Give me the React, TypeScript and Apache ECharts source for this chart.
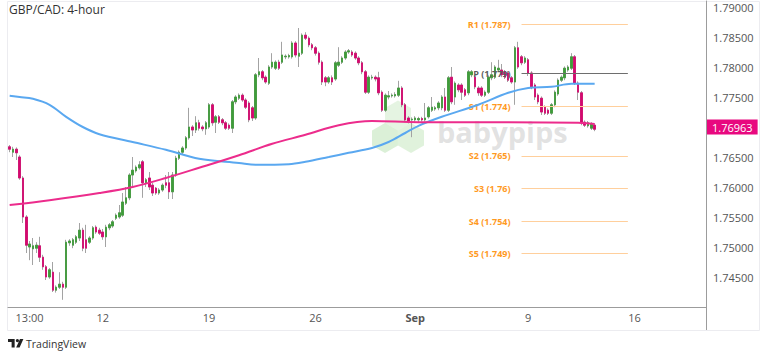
import React, { useEffect, useRef } from 'react';
import * as echarts from 'echarts';

const FONT = '"Open Sans", "Noto Sans", sans-serif';

const categoryCount = 210;
const categories = Array.from({ length: categoryCount }, (_, i) => 'b' + i);
const tickIndex = [6, 28, 60, 92, 122, 156, 188];
const tickText = ['13:00', '12', '19', '26', 'Sep', '9', '16'];

// [open, close, low, high]
const candles: number[][] = [
  [1.7667, 1.7663, 1.7658, 1.767], [1.7658, 1.7663, 1.765, 1.7667], [1.7663, 1.7657, 1.7645, 1.7666],
  [1.765, 1.7615, 1.7612, 1.7653], [1.7615, 1.755, 1.754, 1.7618], [1.755, 1.7503, 1.749, 1.7553],
  [1.75, 1.7505, 1.7478, 1.751], [1.7497, 1.7502, 1.747, 1.7515], [1.7498, 1.7503, 1.749, 1.7508],
  [1.7502, 1.7483, 1.7475, 1.7517], [1.7483, 1.7467, 1.7462, 1.7487], [1.7467, 1.745, 1.7445, 1.747],
  [1.745, 1.7462, 1.7447, 1.7465], [1.7458, 1.7428, 1.7425, 1.7475], [1.7428, 1.7433, 1.7424, 1.7436],
  [1.7433, 1.7438, 1.743, 1.7458], [1.7438, 1.7433, 1.7412, 1.7442], [1.7433, 1.7508, 1.743, 1.7512],
  [1.7507, 1.751, 1.7502, 1.7513], [1.7503, 1.7512, 1.7498, 1.7515], [1.7508, 1.7517, 1.7505, 1.752],
  [1.7515, 1.7528, 1.751, 1.754], [1.7528, 1.7498, 1.7493, 1.7532], [1.7512, 1.7498, 1.749, 1.7537],
  [1.7508, 1.7515, 1.7505, 1.7518], [1.7515, 1.7532, 1.7512, 1.7535], [1.7533, 1.7525, 1.7522, 1.7536],
  [1.7528, 1.7523, 1.752, 1.7532], [1.7525, 1.7517, 1.7512, 1.753], [1.7517, 1.7533, 1.75, 1.7537],
  [1.7532, 1.7537, 1.7528, 1.754], [1.7535, 1.7542, 1.7532, 1.7545], [1.7548, 1.7553, 1.7545, 1.7556],
  [1.755, 1.7557, 1.7547, 1.757], [1.7553, 1.7575, 1.755, 1.759], [1.7573, 1.7582, 1.757, 1.76],
  [1.7582, 1.762, 1.7578, 1.7623], [1.762, 1.7628, 1.76, 1.765], [1.7627, 1.7633, 1.7624, 1.7636],
  [1.7632, 1.7637, 1.7629, 1.7643], [1.7642, 1.7607, 1.7582, 1.7645], [1.7607, 1.7612, 1.76, 1.7615],
  [1.7615, 1.76, 1.7595, 1.7625], [1.7603, 1.759, 1.7585, 1.7607], [1.7598, 1.759, 1.7587, 1.76],
  [1.759, 1.7595, 1.7587, 1.7598], [1.7595, 1.7603, 1.7592, 1.7606], [1.7607, 1.7603, 1.7598, 1.762],
  [1.7607, 1.7592, 1.758, 1.7625], [1.7592, 1.762, 1.758, 1.7625], [1.762, 1.7648, 1.7617, 1.7652],
  [1.7648, 1.7658, 1.7645, 1.7661], [1.7658, 1.7665, 1.7655, 1.7668], [1.7665, 1.7682, 1.7662, 1.7685],
  [1.7682, 1.77, 1.7679, 1.7732], [1.77, 1.7695, 1.7685, 1.7703], [1.7695, 1.7707, 1.769, 1.7718],
  [1.7707, 1.7698, 1.7694, 1.7712], [1.77, 1.7697, 1.7693, 1.7703], [1.7697, 1.7707, 1.7687, 1.771],
  [1.77, 1.7737, 1.7697, 1.774], [1.7737, 1.7707, 1.7702, 1.774], [1.7708, 1.7717, 1.769, 1.772],
  [1.7717, 1.7708, 1.7705, 1.772], [1.7712, 1.7707, 1.7703, 1.7715], [1.7707, 1.7698, 1.7695, 1.771],
  [1.7703, 1.7698, 1.7695, 1.7706], [1.7698, 1.7742, 1.769, 1.7745], [1.7742, 1.775, 1.7738, 1.7753],
  [1.7748, 1.7753, 1.7745, 1.7756], [1.7753, 1.7745, 1.7742, 1.7756], [1.7745, 1.7733, 1.773, 1.7748],
  [1.774, 1.7712, 1.7708, 1.7743], [1.7732, 1.7715, 1.771, 1.7735], [1.7715, 1.7787, 1.7712, 1.779],
  [1.7787, 1.7792, 1.7783, 1.7815], [1.7792, 1.7782, 1.7778, 1.7795], [1.7783, 1.7775, 1.7772, 1.7786],
  [1.7773, 1.78, 1.777, 1.7803], [1.78, 1.7808, 1.7797, 1.7823], [1.7798, 1.7808, 1.7795, 1.7811],
  [1.7808, 1.7798, 1.7795, 1.7812], [1.7808, 1.782, 1.7805, 1.7842], [1.7817, 1.7818, 1.7813, 1.7821],
  [1.7817, 1.7819, 1.7814, 1.7822], [1.7817, 1.784, 1.7814, 1.7843], [1.784, 1.782, 1.7816, 1.7843],
  [1.7818, 1.7823, 1.78, 1.7865], [1.7823, 1.7853, 1.782, 1.7856], [1.7853, 1.7848, 1.7845, 1.7858],
  [1.7848, 1.7837, 1.7833, 1.7851], [1.7837, 1.7832, 1.7828, 1.784], [1.7832, 1.7823, 1.7819, 1.7835],
  [1.7823, 1.7808, 1.7804, 1.7826], [1.7808, 1.7775, 1.777, 1.7811], [1.7782, 1.7775, 1.7768, 1.7785],
  [1.7775, 1.7782, 1.7772, 1.7785], [1.7782, 1.7775, 1.777, 1.7786], [1.778, 1.7807, 1.7777, 1.781],
  [1.7803, 1.7808, 1.78, 1.7833], [1.7808, 1.7815, 1.7805, 1.7818], [1.7815, 1.7825, 1.7812, 1.7828],
  [1.7825, 1.7827, 1.7822, 1.783], [1.7825, 1.782, 1.7817, 1.7828], [1.7823, 1.7815, 1.7812, 1.7826],
  [1.7815, 1.7807, 1.7803, 1.7818], [1.7807, 1.7792, 1.7788, 1.781], [1.7792, 1.7758, 1.7755, 1.7795],
  [1.7758, 1.7783, 1.7755, 1.7786], [1.7782, 1.7783, 1.7779, 1.7787], [1.7783, 1.778, 1.7776, 1.7786],
  [1.7782, 1.7757, 1.7753, 1.7792], [1.7758, 1.7728, 1.7725, 1.7761], [1.7728, 1.7753, 1.7725, 1.7756],
  [1.775, 1.7752, 1.7746, 1.776], [1.7752, 1.7753, 1.7749, 1.7756], [1.7752, 1.7754, 1.7749, 1.7758],
  [1.7753, 1.7765, 1.775, 1.7777], [1.7765, 1.7737, 1.7733, 1.7768], [1.7737, 1.7712, 1.7708, 1.774],
  [1.7715, 1.771, 1.7706, 1.7718], [1.7712, 1.7713, 1.7683, 1.7716], [1.7712, 1.7715, 1.7709, 1.7718],
  [1.7712, 1.7714, 1.7708, 1.7717], [1.7714, 1.7712, 1.7709, 1.7717], [1.7712, 1.7715, 1.7709, 1.774],
  [1.7717, 1.7732, 1.7714, 1.7735], [1.7728, 1.7733, 1.7725, 1.775], [1.773, 1.7732, 1.7727, 1.7735],
  [1.7732, 1.774, 1.7728, 1.7743], [1.7732, 1.775, 1.7728, 1.7753], [1.775, 1.7728, 1.7725, 1.7765],
  [1.7728, 1.7782, 1.7725, 1.7785], [1.7783, 1.7742, 1.7738, 1.78], [1.775, 1.7773, 1.7737, 1.7776],
  [1.777, 1.7762, 1.7758, 1.7773], [1.777, 1.7758, 1.7745, 1.7773], [1.7762, 1.7753, 1.775, 1.7765],
  [1.7757, 1.7792, 1.7753, 1.7795], [1.7787, 1.7792, 1.7783, 1.7795], [1.7783, 1.7767, 1.7763, 1.7786],
  [1.7765, 1.7757, 1.7752, 1.7768], [1.7765, 1.7753, 1.775, 1.7768], [1.7753, 1.7758, 1.775, 1.7761],
  [1.7758, 1.7783, 1.7755, 1.7786], [1.7782, 1.7787, 1.7778, 1.7808], [1.7783, 1.78, 1.778, 1.7803],
  [1.7795, 1.7798, 1.7792, 1.7812], [1.7795, 1.7787, 1.7783, 1.7805], [1.7792, 1.7783, 1.778, 1.7795],
  [1.779, 1.7778, 1.7775, 1.7793], [1.7782, 1.7775, 1.7772, 1.7785], [1.7775, 1.7832, 1.7737, 1.7835],
  [1.7832, 1.78, 1.7797, 1.7842], [1.7817, 1.7807, 1.7803, 1.782], [1.7808, 1.7815, 1.7805, 1.7818],
  [1.7812, 1.779, 1.7785, 1.7815], [1.779, 1.7767, 1.7763, 1.7793], [1.777, 1.775, 1.7745, 1.7773],
  [1.7753, 1.7742, 1.7738, 1.7756], [1.7748, 1.7725, 1.772, 1.7751], [1.7733, 1.7723, 1.772, 1.7736],
  [1.7728, 1.7723, 1.772, 1.7731], [1.7723, 1.7737, 1.772, 1.774], [1.7737, 1.7758, 1.7733, 1.7761],
  [1.7755, 1.7778, 1.7752, 1.7781], [1.7778, 1.7783, 1.7775, 1.7786], [1.7782, 1.7798, 1.7778, 1.7801],
  [1.7795, 1.78, 1.7792, 1.7803], [1.7798, 1.7817, 1.7795, 1.7823], [1.7817, 1.7773, 1.777, 1.782],
  [1.7773, 1.7758, 1.7745, 1.7776], [1.7757, 1.7707, 1.7703, 1.776], [1.7708, 1.7703, 1.77, 1.7711],
  [1.7702, 1.7707, 1.7699, 1.771], [1.7698, 1.7705, 1.7695, 1.7708], [1.7703, 1.76963, 1.7693, 1.7706],
];

const blueMaIdx = [0, 3, 7, 12, 17, 22, 27, 37, 47, 57, 69, 74, 84, 89, 96, 102, 109, 114, 119, 123, 130, 141, 150, 156, 163, 169, 176];
const blueMaVal = [1.7752, 1.775, 1.7747, 1.7737, 1.7717, 1.77, 1.7688, 1.7675, 1.7662, 1.7647, 1.764, 1.7637, 1.7638, 1.7642, 1.765, 1.7657, 1.7665, 1.7675, 1.769, 1.7702, 1.7717, 1.7737, 1.7757, 1.7765, 1.7767, 1.7772, 1.7772];

const pinkMaIdx = [0, 12, 27, 37, 47, 57, 69, 79, 89, 99, 109, 123, 150, 171, 176];
const pinkMaVal = [1.757, 1.7578, 1.759, 1.76, 1.7615, 1.7632, 1.7653, 1.7672, 1.7687, 1.7703, 1.771, 1.7708, 1.7708, 1.7707, 1.7705];

const pivotNames = ['R1', 'P', 'S1', 'S2', 'S3', 'S4', 'S5'];
const pivotLevels = [1.7871, 1.779, 1.7735, 1.7652, 1.7598, 1.7543, 1.749];
const pivotText = ['1.787', '1.779', '1.774', '1.765', '1.76', '1.754', '1.749'];
const pivotStart = 154;
const pivotEnd = 186;

const UP = '#3f9c3a';
const DOWN = '#d5086e';
const WICK = '#a3a3a3';

function hexPoints(cx: number, cy: number, r: number) {
  const w = r * 0.866;
  return [[cx, cy - r], [cx + w, cy - r / 2], [cx + w, cy + r / 2], [cx, cy + r], [cx - w, cy + r / 2], [cx - w, cy - r / 2]];
}

export default function App() {
  const ref = useRef<HTMLDivElement>(null);
  useEffect(() => {
    if (!ref.current) return;
    echarts.graphic.registerShape(
      'tvlogo',
      echarts.graphic.extendPath('M0 0H7V9H3.8V3.2H0Z M8.2 1.7A1.7 1.7 0 1 0 11.6 1.7A1.7 1.7 0 1 0 8.2 1.7Z M12.6 0H16.2L12.2 9H8.6Z', {})
    );
    const chart = echarts.init(ref.current, undefined, { renderer: 'svg' });
    const lastClose = candles[candles.length - 1][1];
    const option: any = {
      animation: false,
      backgroundColor: '#ffffff',
      grid: { left: 8, right: 62, top: 1, bottom: 51, containLabel: false },
      xAxis: {
        type: 'category',
        data: categories,
        boundaryGap: true,
        axisLine: { show: true, lineStyle: { color: '#9c9c9c', width: 1 } },
        axisTick: { show: false },
        splitLine: { show: false },
        axisLabel: {
          interval: (i: number) => tickIndex.includes(i),
          formatter: (_v: string, i: number) => {
            const k = tickIndex.indexOf(i);
            if (k < 0) return '';
            return tickText[k] === 'Sep' ? '{b|Sep}' : tickText[k];
          },
          rich: { b: { fontWeight: 'bold', fontSize: 11, color: '#555', fontFamily: FONT } },
          color: '#555',
          fontSize: 11,
          fontFamily: FONT,
          margin: 5,
          hideOverlap: false,
        },
      },
      yAxis: {
        type: 'value',
        position: 'right',
        min: 1.74,
        max: 1.791,
        interval: 0.005,
        axisLine: { show: true, lineStyle: { color: '#9c9c9c', width: 1 } },
        axisTick: { show: false },
        splitLine: { show: false },
        axisLabel: {
          formatter: (v: number) => {
            const k = Math.round(v / 0.005);
            if (Math.abs(v - k * 0.005) > 1e-7) return '';
            if (Math.abs(v - 1.74) < 1e-7 || Math.abs(v - 1.77) < 1e-7) return '';
            return v.toFixed(5);
          },
          color: '#555',
          fontSize: 11,
          fontFamily: FONT,
          margin: 7,
        },
      },
      series: [
        {
          type: 'line',
          z: 1,
          silent: true,
          data: [],
          markLine: {
            silent: true,
            symbol: ['none', 'none'],
            animation: false,
            data: pivotLevels.map((lvl, k) => [
              {
                coord: [categories[pivotStart], lvl],
                lineStyle: { color: k === 1 ? '#6e6e6e' : '#ffcf9c', width: 1, type: 'solid' },
                label: {
                  show: true,
                  position: 'start',
                  distance: 11,
                  formatter: `${pivotNames[k]} (${pivotText[k]})`,
                  color: k === 1 ? '#5c5c5c' : '#ff9a1f',
                  fontSize: 9,
                  fontWeight: 'bold',
                  fontFamily: FONT,
                },
              },
              { coord: [categories[pivotEnd], lvl] },
            ]),
          },
        },
        {
          type: 'candlestick',
          z: 3,
          silent: true,
          barWidth: 2,
          data: candles.map((c) => [c[0], c[1], c[2], c[3]]),
          itemStyle: { color: WICK, color0: WICK, borderColor: WICK, borderColor0: WICK, borderWidth: 1 },
        },
        {
          type: 'candlestick',
          z: 4,
          silent: true,
          barWidth: 2,
          data: candles.map((c) => [c[0], c[1], Math.min(c[0], c[1]), Math.max(c[0], c[1])]),
          itemStyle: { color: UP, color0: DOWN, borderColor: UP, borderColor0: DOWN, borderWidth: 0.8 },
          markLine: {
            silent: true,
            symbol: ['none', 'none'],
            animation: false,
            data: [{ yAxis: lastClose }],
            lineStyle: { width: 0, color: 'rgba(0,0,0,0)' },
            label: {
              show: true,
              position: 'end',
              distance: 1,
              formatter: lastClose.toFixed(5),
              color: '#ffffff',
              backgroundColor: '#e8087f',
              padding: [2, 5, 2, 5],
              fontSize: 11,
              fontFamily: FONT,
            },
          },
        },
        {
          type: 'line',
          z: 5,
          silent: true,
          showSymbol: false,
          symbol: 'none',
          smooth: 0.35,
          data: blueMaIdx.map((i, k) => [categories[i], blueMaVal[k]]),
          lineStyle: { color: '#5aa8f0', width: 2 },
        },
        {
          type: 'line',
          z: 5,
          silent: true,
          showSymbol: false,
          symbol: 'none',
          smooth: 0.35,
          data: pinkMaIdx.map((i, k) => [categories[i], pinkMaVal[k]]),
          lineStyle: { color: '#ec2c8c', width: 2 },
        },
      ],
      graphic: [
        { type: 'rect', z: 0, silent: true, shape: { x: 7.5, y: 1.5, width: 752, height: 329 }, style: { fill: 'none', stroke: '#ececf0', lineWidth: 1 } },
        { type: 'line', z: 0, silent: true, shape: { x1: 706.5, y1: 306, x2: 706.5, y2: 330 }, style: { stroke: '#9c9c9c', lineWidth: 1 } },
        { type: 'polygon', z: 0, silent: true, shape: { points: hexPoints(398, 115.5, 15) }, style: { fill: 'rgba(170,220,160,0.30)' } },
        { type: 'polygon', z: 0, silent: true, shape: { points: hexPoints(385, 138, 15) }, style: { fill: 'rgba(160,215,150,0.38)' } },
        { type: 'polygon', z: 0, silent: true, shape: { points: hexPoints(411, 138, 15) }, style: { fill: 'rgba(160,215,150,0.33)' } },
        {
          type: 'text', z: 0, silent: true,
          style: { text: 'babypips', x: 437, y: 131, verticalAlign: 'middle', fill: 'rgba(185,185,185,0.42)', font: 'bold 29px "Open Sans", sans-serif' },
        },
        {
          type: 'text', z: 100, silent: true,
          style: { text: 'GBP/CAD: 4-hour', x: 9, y: 9, verticalAlign: 'middle', fill: '#333333', font: '12px "Open Sans", sans-serif' },
        },
        { type: 'tvlogo', z: 100, silent: true, x: 8, y: 339, scaleX: 0.95, scaleY: 0.95, style: { fill: '#222222' } },
        {
          type: 'text', z: 100, silent: true,
          style: { text: 'TradingView', x: 26, y: 344, verticalAlign: 'middle', fill: '#333333', font: '10.5px "Open Sans", sans-serif' },
        },
      ],
    };
    chart.setOption(option);
    return () => chart.dispose();
  }, []);
  return <div ref={ref} style={{ position: 'fixed', left: 0, top: 0, width: 768, height: 358 }} />;
}
